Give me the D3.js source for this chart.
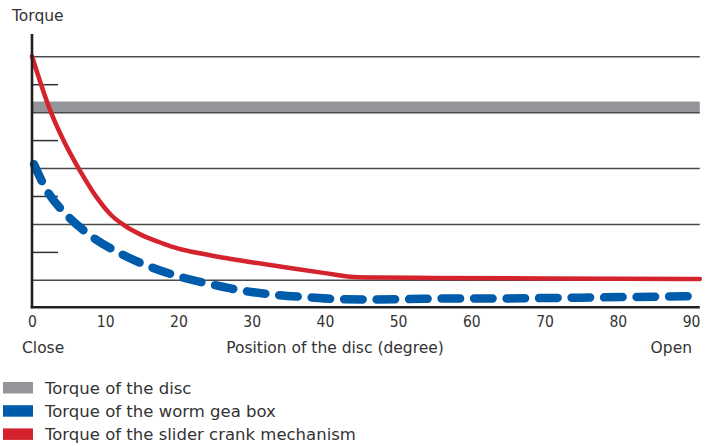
<!DOCTYPE html>
<html>
<head>
<meta charset="utf-8">
<script src="https://cdn.jsdelivr.net/npm/d3@7/dist/d3.min.js"></script>
<style>
  html, body { margin: 0; padding: 0; background: #fff; }
  svg text { font-family: "DejaVu Sans", sans-serif; fill: #333; }
</style>
</head>
<body>
<svg id="chart" width="708" height="446"></svg>
<script>
// ---- data ----
const xTicks = [0, 10, 20, 30, 40, 50, 60, 70, 80, 90];
const gridValues = [1, 3, 5, 7, 9];
const shortTickValues = [2, 4, 6, 8];
const discBand = [7.0, 7.38];

const crankDeg    = [0, 2.46, 4.28, 6.56, 8.84, 10.8, 12.6, 15, 17.9, 20, 22.9, 26, 30, 35, 40, 44, 47, 55, 70, 91.2];
const crankTorque = [9.0, 7.08, 6.0, 4.9, 3.95, 3.32, 2.95, 2.6, 2.3, 2.12, 1.95, 1.8, 1.63, 1.43, 1.24, 1.1, 1.08, 1.07, 1.05, 1.03];

const wormDeg    = [0.27, 2.0, 4.74, 7.9, 12.0, 16.1, 20.2, 24.3, 28.4, 33.4, 37.5, 42.1, 46.2, 51.2, 55.7, 60, 73.5, 91.1];
const wormTorque = [5.14, 4.21, 3.32, 2.6, 1.95, 1.47, 1.11, 0.85, 0.63, 0.46, 0.38, 0.31, 0.30, 0.31, 0.33, 0.33, 0.36, 0.42];

const legendLabels = ["Torque of the disc", "Torque of the worm gea box", "Torque of the slider crank mechanism"];
const legendColors = ["#939598", "#005bab", "#d5232e"];

// ---- scales ----
const svg = d3.select("#chart");
const x = d3.scaleLinear().domain([0, 90]).range([32, 691]);
const y = d3.scaleLinear().domain([0, 9]).range([307.8, 56.25]);
const xMax = 91.2;     // axis/grid extend slightly past 90
const yTop = 9.8;

// grey band
svg.append("rect")
  .attr("x", x(0)).attr("width", x(xMax) - x(0))
  .attr("y", y(discBand[1])).attr("height", y(discBand[0]) - y(discBand[1]))
  .attr("fill", "#939598");

// gridlines (full width)
const grid = svg.append("g").attr("transform", `translate(${x(0)},0)`)
  .call(d3.axisRight(y).tickValues(gridValues).tickSize(x(xMax) - x(0)).tickFormat(""));
grid.select(".domain").remove();
grid.selectAll(".tick line").attr("stroke", "#4a4a4a").attr("stroke-width", 1.5);

// short ticks
const st = svg.append("g").attr("transform", `translate(${x(0)},0)`)
  .call(d3.axisRight(y).tickValues(shortTickValues).tickSize(26).tickFormat(""));
st.select(".domain").remove();
st.selectAll(".tick line").attr("stroke", "#333").attr("stroke-width", 1.5);

// curves
const line = d3.line().x(d => x(d[0])).y(d => y(d[1])).curve(d3.curveMonotoneX);

svg.append("path")
  .datum(crankDeg.map((d, i) => [d, crankTorque[i]]))
  .attr("d", line)
  .attr("fill", "none").attr("stroke", "#d5232e").attr("stroke-width", 4.5)
  .attr("stroke-linecap", "round");

svg.append("path")
  .datum(wormDeg.map((d, i) => [d, wormTorque[i]]))
  .attr("d", line)
  .attr("fill", "none").attr("stroke", "#005bab").attr("stroke-width", 8.5)
  .attr("stroke-linecap", "round").attr("stroke-dasharray", "18.5 14");

// axes lines
svg.append("line").attr("x1", x(0)).attr("x2", x(0)).attr("y1", y(yTop)).attr("y2", y(0) + 0.5)
  .attr("stroke", "#231f20").attr("stroke-width", 2.6);
svg.append("line").attr("x1", x(0) - 1.3).attr("x2", x(xMax)).attr("y1", y(0) - 0.6).attr("y2", y(0) - 0.6)
  .attr("stroke", "#231f20").attr("stroke-width", 2.6);

// x tick labels
const xa = svg.append("g").attr("transform", `translate(0,${y(0)})`)
  .call(d3.axisBottom(x).tickValues(xTicks).tickSize(0).tickPadding(0).tickFormat(d3.format("d")));
xa.select(".domain").remove();
xa.selectAll(".tick text")
  .attr("y", 19.5).attr("dy", 0)
  .style("font-family", "'DejaVu Sans Condensed', 'DejaVu Sans', sans-serif")
  .style("font-size", "15.5px").attr("fill", "#333");

// labels
svg.append("text").attr("x", 12).attr("y", 21).style("font-size", "15.5px").text("Torque");
svg.append("text").attr("x", 22).attr("y", 353).style("font-size", "15.5px").text("Close");
svg.append("text").attr("x", 335).attr("y", 353).attr("text-anchor", "middle").style("font-size", "15.5px").text("Position of the disc (degree)");
svg.append("text").attr("x", 692).attr("y", 353).attr("text-anchor", "end").style("font-size", "15.5px").text("Open");

// legend
const lg = svg.append("g");
legendLabels.forEach((lab, i) => {
  const yy = 382 + i * 23.2;
  lg.append("rect").attr("x", 3).attr("y", yy).attr("width", 30).attr("height", 11.5).attr("fill", legendColors[i]);
  lg.append("text").attr("x", 45).attr("y", yy + 12).style("font-size", "16.5px").text(lab);
});
</script>
</body>
</html>
